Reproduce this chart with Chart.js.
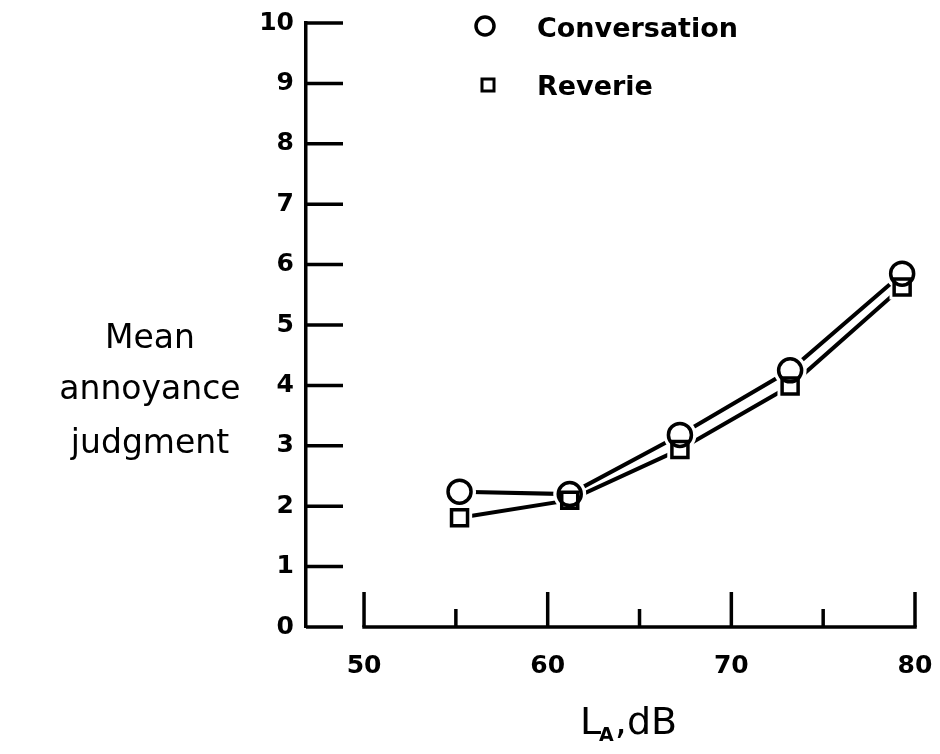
<!DOCTYPE html>
<html>
<head>
<meta charset="utf-8">
<script src="https://cdn.jsdelivr.net/npm/chart.js@4.4.1/dist/chart.umd.min.js"></script>
<style>
  html, body { margin: 0; padding: 0; background: #fff; }
  #wrap { position: relative; width: 940px; height: 754px; }
</style>
</head>
<body>
<div id="wrap"><canvas id="c" width="940" height="754"></canvas></div>
<script>
// Sound level (dB) at which each condition was judged
const levels = [55.2, 61.2, 67.2, 73.2, 79.3];
// Mean annoyance judgments per condition
const conversation = [2.24, 2.2, 3.18, 4.25, 5.85];
const reverie = [1.81, 2.1, 2.94, 3.99, 5.63];
// Axis ticks
const xTicks = [50, 55, 60, 65, 70, 75, 80];
const xLabelled = [50, 60, 70, 80];
const yTicks = [0, 1, 2, 3, 4, 5, 6, 7, 8, 9, 10];
const seriesNames = ['Conversation', 'Reverie'];
const yTitleLines = ['Mean', 'annoyance', 'judgment'];

const INK = '#000';

function toPoints(vals) {
  return levels.map((x, i) => ({ x: x, y: vals[i] }));
}

// Outlines drawn over the white point halos, so both markers stay visible
function strokeMarker(ctx, style, x, y, r) {
  ctx.save();
  ctx.strokeStyle = INK;
  ctx.lineWidth = 3.5;
  ctx.beginPath();
  if (style === 'circle') {
    ctx.arc(x, y, r, 0, Math.PI * 2);
  } else {
    ctx.rect(x - r, y - r, 2 * r, 2 * r);
  }
  ctx.stroke();
  ctx.restore();
}

const decorations = {
  id: 'decorations',
  afterDatasetsDraw(chart) {
    const ctx = chart.ctx;
    chart.data.datasets.forEach((ds, i) => {
      const meta = chart.getDatasetMeta(i);
      const r = ds.pointStyle === 'circle' ? 11.5 : 8;
      meta.data.forEach(pt => strokeMarker(ctx, ds.pointStyle, pt.x, pt.y, r));
    });
  },
  afterDraw(chart) {
    const ctx = chart.ctx;
    const xs = chart.scales.x, ys = chart.scales.y;
    const area = chart.chartArea;
    ctx.save();
    ctx.strokeStyle = INK;
    ctx.lineCap = 'butt';
    ctx.lineWidth = 3.5;

    // y ticks point inward from the left axis
    yTicks.forEach(v => {
      const py = ys.getPixelForValue(v);
      ctx.beginPath();
      ctx.moveTo(area.left, py);
      ctx.lineTo(area.left + 37, py);
      ctx.stroke();
    });

    // x axis runs only over 50..80, ticks point upward
    const base = ys.getPixelForValue(0);
    ctx.beginPath();
    ctx.moveTo(xs.getPixelForValue(xTicks[0]) - 1.75, base);
    ctx.lineTo(xs.getPixelForValue(xTicks[xTicks.length - 1]) + 1.75, base);
    ctx.stroke();
    xTicks.forEach(v => {
      const px = xs.getPixelForValue(v);
      const len = xLabelled.includes(v) ? 35 : 18;
      ctx.beginPath();
      ctx.moveTo(px, base);
      ctx.lineTo(px, base - len);
      ctx.stroke();
    });

    // legend
    ctx.fillStyle = INK;
    ctx.textBaseline = 'alphabetic';
    ctx.font = 'bold 27px "DejaVu Sans"';
    ctx.textAlign = 'left';
    strokeMarker(ctx, 'circle', 485, 26, 9);
    ctx.fillText(seriesNames[0], 537, 37);
    ctx.save();
    ctx.lineWidth = 3;
    ctx.strokeRect(482, 79, 12, 12);
    ctx.restore();
    ctx.fillText(seriesNames[1], 537, 95);

    // y axis title, three centred lines
    ctx.font = '33px "DejaVu Sans"';
    ctx.textAlign = 'center';
    const cx = 150;
    [348, 399, 453].forEach((by, i) => ctx.fillText(yTitleLines[i], cx, by));

    // x axis title: L with subscript A, then ",dB"
    ctx.textAlign = 'left';
    const big = '38px "DejaVu Sans"', small = 'bold 19px "DejaVu Sans"';
    ctx.font = big;
    const wL = ctx.measureText('L').width;
    const wRest = ctx.measureText(',dB').width;
    ctx.font = small;
    const wA = ctx.measureText('A').width;
    const total = wL + wA + wRest;
    let tx = 629 - total / 2;
    const tb = 734;
    ctx.font = big;
    ctx.fillText('L', tx, tb);
    tx += wL - 2;
    ctx.font = small;
    ctx.fillText('A', tx, tb + 7);
    tx += wA + 1;
    ctx.font = big;
    ctx.fillText(',dB', tx, tb);
    ctx.restore();
  }
};

const halo = {
  pointHoverRadius: 11,
  pointBorderWidth: 9,
  pointHoverBorderWidth: 9,
  pointBorderColor: '#fff',
  pointBackgroundColor: '#fff',
  borderColor: INK,
  borderWidth: 4,
  fill: false,
  tension: 0
};

new Chart(document.getElementById('c'), {
  type: 'line',
  data: {
    datasets: [
      Object.assign({ label: seriesNames[0], data: toPoints(conversation), pointStyle: 'circle', pointRadius: 12 }, halo),
      Object.assign({ label: seriesNames[1], data: toPoints(reverie), pointStyle: 'rect', pointRadius: 11.5 }, halo)
    ]
  },
  options: {
    responsive: false,
    animation: false,
    events: [],
    layout: { padding: { left: 0, right: 25, top: 23, bottom: 0 } },
    plugins: { legend: { display: false }, tooltip: { enabled: false } },
    scales: {
      x: {
        type: 'linear',
        min: 46.84,
        max: 80,
        afterBuildTicks(scale) { scale.ticks = xLabelled.map(v => ({ value: v })); },
        afterFit(scale) { scale.height = 127; scale.paddingLeft = 0; scale.paddingRight = 0; },
        grid: { display: false, drawTicks: false },
        border: { display: false },
        ticks: { color: INK, font: { family: 'DejaVu Sans', weight: 'bold', size: 25 }, padding: 24, maxRotation: 0, autoSkip: false }
      },
      y: {
        type: 'linear',
        min: 0,
        max: 10,
        afterBuildTicks(scale) { scale.ticks = yTicks.map(v => ({ value: v })); },
        afterFit(scale) { scale.width = 306; scale.paddingTop = 0; scale.paddingBottom = 0; },
        grid: { display: false, drawTicks: false },
        border: { display: true, color: INK, width: 3.5 },
        ticks: { color: INK, font: { family: 'DejaVu Sans', weight: 'bold', size: 25 }, padding: 12 }
      }
    }
  },
  plugins: [decorations]
});
</script>
</body>
</html>
